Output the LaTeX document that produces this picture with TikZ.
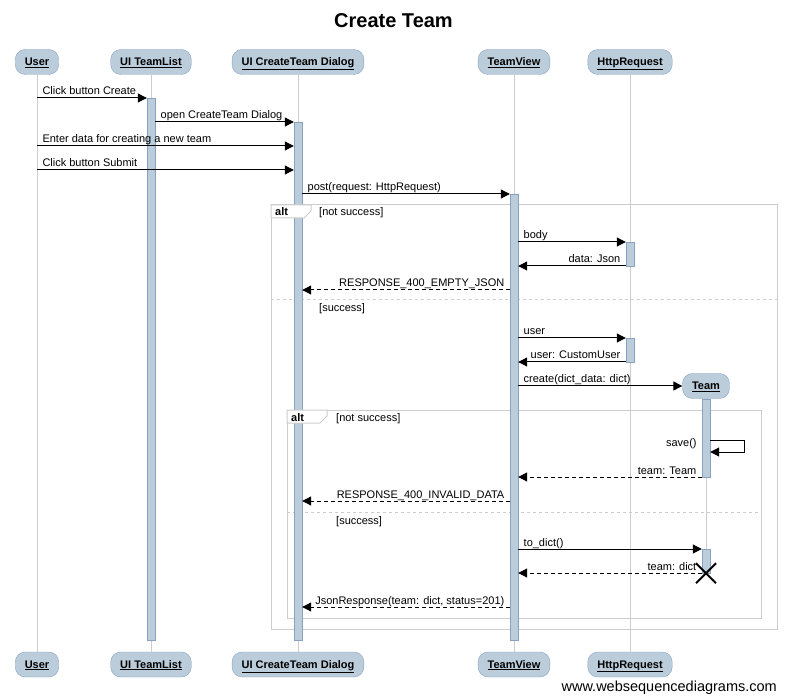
\documentclass[tikz,border=0pt]{standalone}
\usepackage{fontspec}
\setmainfont{Liberation Sans}
\usetikzlibrary{arrows.meta}
\definecolor{boxfill}{RGB}{187,205,219}
\definecolor{boxline}{RGB}{137,162,195}
\definecolor{lifegray}{RGB}{204,204,204}
\begin{document}
\begin{tikzpicture}[x=1pt, y=-1pt, font=\fontsize{11}{13}\selectfont,
	part/.style={draw=boxline, fill=boxfill, rounded corners=10pt, minimum height=25pt, inner xsep=9.5pt, text height=8pt, text depth=1pt, font=\bfseries\fontsize{11}{13}\selectfont},
	act/.style={draw=boxline, fill=boxfill, minimum width=8pt, inner sep=0pt},
	life/.style={draw=lifegray, line width=1pt},
	frm/.style={draw=lifegray, line width=1pt},
	msg/.style={line width=1pt, -{Triangle[length=9pt,width=9pt]}},
	ret/.style={msg, dash pattern=on 4pt off 3pt},
	lr/.style={pos=0, anchor=base west, inner sep=0pt, xshift=5pt, yshift=3pt},
	rl/.style={pos=0, anchor=base east, inner sep=0pt, xshift=-5pt, yshift=3pt}]
	\useasboundingbox (0,0) rectangle (787,700);
	\node[font=\bfseries\fontsize{20}{24}\selectfont] (title) at (393.5,21) {Create Team};
	% participants
	\node[part] (user)  at (37,62)  {\underline{User}};
	\node[part] (tlist) at (151,62) {\underline{UI TeamList}};
	\node[part] (dlg)   at (298,62) {\underline{UI CreateTeam Dialog}};
	\node[part] (tview) at (514,62) {\underline{TeamView}};
	\node[part] (hreq)  at (630,62) {\underline{HttpRequest}};
	\node[part] (userB)  at (37,664.5)  {\underline{User}};
	\node[part] (tlistB) at (151,664.5) {\underline{UI TeamList}};
	\node[part] (dlgB)   at (298,664.5) {\underline{UI CreateTeam Dialog}};
	\node[part] (tviewB) at (514,664.5) {\underline{TeamView}};
	\node[part] (hreqB)  at (630,664.5) {\underline{HttpRequest}};
	\node[part] (team)   at (706,386) {\underline{Team}};
	% lifelines
	\draw[life] (user)  -- (userB);
	\draw[life] (tlist) -- (tlistB);
	\draw[life] (dlg)   -- (dlgB);
	\draw[life] (tview) -- (tviewB);
	\draw[life] (hreq)  -- (hreqB);
	\draw[life] (team.south) -- (706,573);
	% alt frames
	\draw[frm] (271,205) rectangle (777,629);
	\draw[frm, dashed] (271,300) -- (777,300);
	\node[anchor=base west, inner sep=0pt] (g1) at (319,216) {[not success]};
	\node[anchor=base west, inner sep=0pt] (g2) at (319,312) {[success]};
	\draw[frm] (287,410) rectangle (761,618);
	\draw[frm, dashed] (287,512) -- (761,512);
	\node[anchor=base west, inner sep=0pt] (g3) at (336,421) {[not success]};
	\node[anchor=base west, inner sep=0pt] (g4) at (336,524) {[success]};
	% activations
	\node[act, minimum height=542pt] (tlA)  at (151,369) {};
	\node[act, minimum height=518pt] (dlgA) at (298,381) {};
	\node[act, minimum height=446pt] (tvA)  at (514,417) {};
	\node[act, minimum height=24pt]  (hr1)  at (630,254) {};
	\node[act, minimum height=24pt]  (hr2)  at (630,350) {};
	\node[act, minimum height=78pt]  (tmA1) at (706,438) {};
	\node[act, minimum height=24pt]  (tmA2) at (706,561) {};
	% tabs over the bars
	\filldraw[frm, fill=white] (271,205) -- (311,205) -- (311,211) -- (304,218) -- (271,218) -- cycle;
	\node[anchor=base west, inner sep=0pt, font=\bfseries\fontsize{11}{13}\selectfont] (alt1) at (275,216) {alt};
	\filldraw[frm, fill=white] (287,410) -- (327,410) -- (327,416) -- (320,423) -- (287,423) -- cycle;
	\node[anchor=base west, inner sep=0pt, font=\bfseries\fontsize{11}{13}\selectfont] (alt2) at (291,421) {alt};
	% messages
	\draw[msg] (user |- 0,98)       -- node[lr]{Click button Create} (tlA.west |- 0,98);
	\draw[msg] (tlA.east |- 0,122)  -- node[lr]{open CreateTeam Dialog} (dlgA.west |- 0,122);
	\draw[msg] (user |- 0,146)      -- node[lr]{Enter data for creating a new team} (dlgA.west |- 0,146);
	\draw[msg] (user |- 0,170)      -- node[lr]{Click button Submit} (dlgA.west |- 0,170);
	\draw[msg] (dlgA.east |- 0,194) -- node[lr]{post(request: HttpRequest)} (tvA.west |- 0,194);
	\draw[msg] (tvA.east |- 0,242)  -- node[lr]{body} (hr1.west |- 0,242);
	\draw[msg] (hr1.west |- 0,266)  -- node[rl]{data: Json} (tvA.east |- 0,266);
	\draw[ret] (tvA.west |- 0,290)  -- node[rl]{RESPONSE\_400\_EMPTY\_JSON} (dlgA.east |- 0,290);
	\draw[msg] (tvA.east |- 0,338)  -- node[lr]{user} (hr2.west |- 0,338);
	\draw[msg] (hr2.west |- 0,362)  -- node[rl]{user: CustomUser} (tvA.east |- 0,362);
	\draw[msg] (tvA.east |- team.west) -- node[lr]{create(dict\_data: dict)} (team.west);
	\draw[msg] (tmA1.east |- 0,440) -- ++(34,0) -- ++(0,12) -- (tmA1.east |- 0,452);
	\node[anchor=base east, inner sep=0pt, xshift=-5pt] (savelbl) at (tmA1.west |- 0,446) {save()};
	\draw[ret] (tmA1.west |- 0,477) -- node[rl]{team: Team} (tvA.east |- 0,477);
	\draw[ret] (tvA.west |- 0,501)  -- node[rl]{RESPONSE\_400\_INVALID\_DATA} (dlgA.east |- 0,501);
	\draw[msg] (tvA.east |- 0,549)  -- node[lr]{to\_dict()} (tmA2.west |- 0,549);
	\draw[ret] (tmA2.west |- 0,573) -- node[rl]{team: dict} (tvA.east |- 0,573);
	\draw[ret] (tvA.west |- 0,607)  -- node[rl]{JsonResponse(team: dict, status=201)} (dlgA.east |- 0,607);
	%destroy
	\draw[line width=2pt] ([shift={(-10,-10)}]tmA2.south) -- ([shift={(10,10)}]tmA2.south);
	\draw[line width=2pt] ([shift={(-10,10)}]tmA2.south) -- ([shift={(10,-10)}]tmA2.south);
	\node[anchor=base east, inner sep=0pt, font=\fontsize{14.5}{17}\selectfont] (wsd) at (777,691) {www.websequencediagrams.com};
\end{tikzpicture}
\end{document}
